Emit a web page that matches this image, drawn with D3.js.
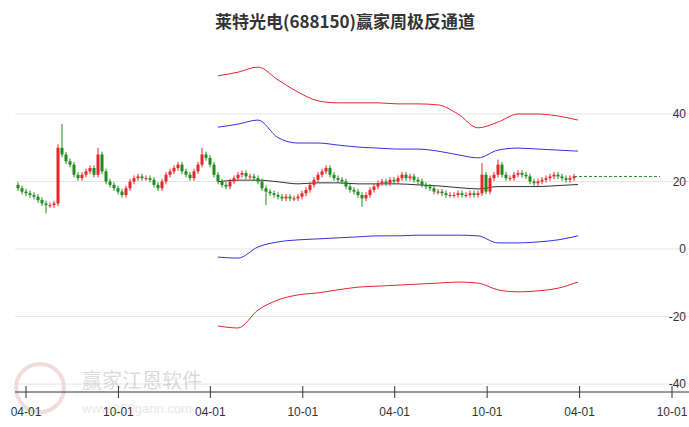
<!DOCTYPE html><html><head><meta charset="utf-8">
<script src="https://cdn.jsdelivr.net/npm/d3@7"></script>
<style>body{margin:0;background:#fff}svg{font-family:"Liberation Sans",Arial,sans-serif}</style></head><body>
<svg id="c" width="689" height="427"></svg>
<script>
const title = "莱特光电(688150)赢家周极反通道";
const closes = [18,17,16.5,16,15.5,14.5,13.5,13,13,13.5,30,28,26,25,22,21,22,23,24,22,28,23,20,19,18,17,16,18,20,21,21.5,21,21,20.5,19,18,20,22,23,24,25,23,22,21,23,25,28,27,25,22,20,19,18.5,20,21,22,22.5,21.5,21.5,21,20,18,17,16.5,16,15.5,15,15.5,15,15,15.5,16.5,17.5,19,20.5,22,23,24,22,21,20.5,20,18.5,17.5,17,16,15,16,17.5,18.5,19.5,20,19.5,20.5,20,21,22,21,21.5,20.5,20,19,18.5,18,17,17,16.5,16,16,16,16.5,16,16,16.5,16,16.5,22,17,21,22,25,22,21,21,22,22.5,22,21.5,20,19.5,20,20.5,21,21.5,22,21.5,21,20.5,21,21.5];
const firstOpen = 19;
const spikeHighs = {10:31,11:37,20:30,46:30,116:25.5,120:26.5};
const spikeLows = {7:10.5,62:13,86:12.5};
const chanIdx = [50,55,60,65,70,75,80,85,90,95,100,105,110,115,120,125,130,135,140];
const redUp = [51.3,52.4,53.9,50.1,46.5,43.9,43.3,43.3,43.3,43.0,43.0,42.7,40.0,35.9,37.6,40.0,40.0,39.4,38.2];
const blueUp = [36.1,37.0,38.2,33.0,31.4,31.4,30.8,30.2,29.9,29.6,29.6,29.0,27.9,27.0,29.3,29.9,29.6,29.3,29.0];
const mid = [19.9,20.4,20.4,19.9,19.3,19.6,19.6,19.3,19.3,19.3,19.0,18.7,18.2,17.8,18.5,18.5,18.5,18.8,19.1];
const blueLo = [-2.4,-2.7,0.6,2.1,2.7,3.0,3.3,3.6,3.9,3.9,4.1,4.1,4.1,3.9,1.8,1.8,2.1,2.7,3.9];
const redLo = [-22.8,-23.4,-18.1,-15.1,-13.6,-13.0,-12.1,-11.3,-11.0,-10.7,-10.4,-10.1,-9.8,-10.1,-12.1,-12.7,-12.4,-11.6,-9.8];
const yTicks = [40,20,0,-20,-40];
const xTickDates = ["2021-04-01","2021-10-01","2022-04-01","2022-10-01","2023-04-01","2023-10-01","2024-04-01","2024-10-01"];
const xTickLabels = ["04-01","10-01","04-01","10-01","04-01","10-01","04-01","10-01"];

const svg = d3.select("#c");
const y = d3.scaleLinear().domain([-40,40]).range([384,114]);
const xi = d3.scaleLinear().domain([0,closes.length-1]).range([18,574]);
const xt = d3.scaleTime().domain([new Date("2021-04-01"),new Date("2024-10-01")]).range([26,672]);

svg.append("text").attr("x",345).attr("y",28).attr("text-anchor","middle").attr("font-size",17).attr("font-weight","bold").attr("fill","#333").attr("font-family","Noto Sans CJK SC").text(title);

svg.selectAll(".g").data(yTicks).join("line").attr("x1",15).attr("x2",689).attr("y1",d=>y(d)).attr("y2",d=>y(d)).attr("stroke","#e6e6e6");
svg.selectAll(".yl").data(yTicks).join("text").attr("x",686).attr("y",d=>y(d)+4).attr("text-anchor","end").attr("font-size",12).attr("fill","#333").text(d=>d);

const wm = svg.append("g").attr("opacity",0.35);
wm.append("circle").attr("cx",40).attr("cy",388).attr("r",24).attr("fill","none").attr("stroke","#d9a0a0").attr("stroke-width",4);
wm.append("text").attr("x",82).attr("y",388).attr("font-size",20).attr("fill","#999").attr("font-family","Noto Sans CJK SC").text("赢家江恩软件");
wm.append("text").attr("x",82).attr("y",413).attr("font-size",13).attr("fill","#bbb").text("www.360gann.com");

svg.append("line").attr("x1",15).attr("x2",689).attr("y1",392).attr("y2",392).attr("stroke","#333");
const ax = svg.append("g");
xTickDates.forEach((d,i)=>{
  const X = xt(new Date(d));
  ax.append("line").attr("x1",X).attr("x2",X).attr("y1",386).attr("y2",398).attr("stroke","#333");
  ax.append("text").attr("x",X).attr("y",416).attr("text-anchor","middle").attr("font-size",12).attr("fill","#333").text(xTickLabels[i]);
});

const ln = d3.line().x(d=>xi(d[0])).y(d=>y(d[1])).curve(d3.curveMonotoneX);
[[redUp,"#e8262a"],[blueUp,"#3333dd"],[blueLo,"#3333dd"],[redLo,"#e8262a"],[mid,"#333"]].forEach(([arr,c])=>{
  svg.append("path").attr("d",ln(chanIdx.map((k,i)=>[k,arr[i]]))).attr("fill","none").attr("stroke",c).attr("stroke-width",1);
});

const bars = closes.map((c,i)=>{
  const o = i===0?firstOpen:closes[i-1];
  const hi = spikeHighs[i]!==undefined?spikeHighs[i]:Math.max(o,c)+0.8;
  const lo = spikeLows[i]!==undefined?spikeLows[i]:Math.min(o,c)-0.8;
  return {i,o,c,hi,lo};
});
const g = svg.append("g");
bars.forEach(b=>{
  const col = b.c>=b.o?"#e8262a":"#1f8a1f";
  const X = xi(b.i);
  g.append("line").attr("x1",X).attr("x2",X).attr("y1",y(b.hi)).attr("y2",y(b.lo)).attr("stroke",col);
  g.append("rect").attr("x",X-1.5).attr("width",3).attr("y",y(Math.max(b.o,b.c))).attr("height",Math.max(1,Math.abs(y(b.o)-y(b.c)))).attr("fill",col);
});
const last = closes[closes.length-1];
svg.append("line").attr("x1",xi(closes.length-1)).attr("x2",660).attr("y1",y(last)).attr("y2",y(last)).attr("stroke","#1f8a1f").attr("stroke-dasharray","3,2");
</script></body></html>
